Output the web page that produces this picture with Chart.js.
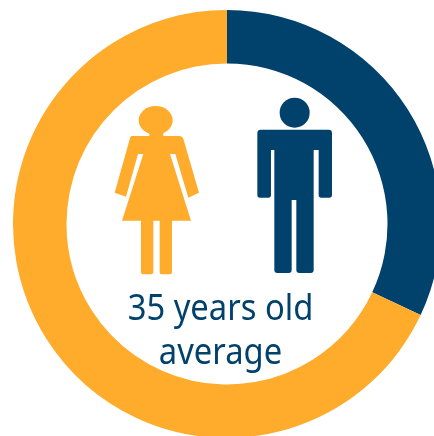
<!DOCTYPE html>
<html>
<head>
<meta charset="utf-8">
<script src="https://cdn.jsdelivr.net/npm/chart.js@4/dist/chart.umd.min.js"></script>
<style>
    html, body { margin: 0; padding: 0; width: 434px; height: 436px; overflow: hidden; background: #fff; }
    #wrap { position: relative; width: 434px; height: 436px; overflow: hidden; }
    #donut_box { position: absolute; left: 13px; top: 10px; width: 428px; height: 428px; }
    #figures { position: absolute; left: 100px; top: 90px; width: 240px; height: 200px; }
    #caption {
        position: absolute; left: 70px; top: 284px; width: 301px; text-align: center;
        font-family: "Noto Sans", sans-serif; font-size: 37px; line-height: 44px; color: #00426c;
        transform: scaleX(0.885);
    }
</style>
</head>
<body>
<div id="wrap">
    <div id="donut_box"><canvas id="age_chart" width="428" height="428"></canvas></div>
    <svg id="figures" viewBox="0 0 720 600">
        <g fill="#ffab2b">
            <ellipse cx="167" cy="91" rx="51" ry="43"/>
            <rect x="148" y="125" width="42" height="16"/>
            <path d="M95 138 L240 138 Q248 140 250 146 L297 308 L265 323 L226 192 L210 192 L273 392 L216 392 L216 545 Q216 553 208 553 L186 553 Q179 553 179 545 L179 392 L160 392 L160 545 Q160 553 152 553 L131 553 Q123 553 123 545 L123 392 L66 392 L130 192 L114 192 L78 320 L44 308 L90 145 Q91 139 95 138 Z"/>
        </g>
        <g fill="#00426c">
            <circle cx="584" cy="68" r="45"/>
            <path d="M482 119 L686 119 Q696 119 696 129 L696 315 Q696 323 688 323 L664 323 Q656 323 656 315 L656 180 L641 180 L641 540 Q641 549 632 549 L598 549 Q589 549 589 540 L589 330 L575 330 L575 540 Q575 549 566 549 L532 549 Q523 549 523 540 L523 180 L513 180 L513 315 Q513 323 505 323 L480 323 Q472 323 472 315 L472 129 Q472 119 482 119 Z"/>
        </g>
    </svg>
    <div id="caption">35 years old<br>average</div>
</div>
<script>
var labels = ["Men", "Women"];
var shares = [32, 68];
var colors = ["#00426c", "#ffab2b"];

var ctx = document.getElementById("age_chart");

var myDoughnutChart = new Chart(ctx, {
    type: 'doughnut',
    data: {
        labels: labels,
        datasets: [
            {
                data: shares,
                backgroundColor: colors,
                borderWidth: 0
            }
        ]
    },
    options: {
        responsive: false,
        animation: false,
        cutout: '75%',
        layout: { padding: 0 },
        plugins: {
            legend: { display: false },
            tooltip: { enabled: false }
        }
    }
});
</script>
</body>
</html>
